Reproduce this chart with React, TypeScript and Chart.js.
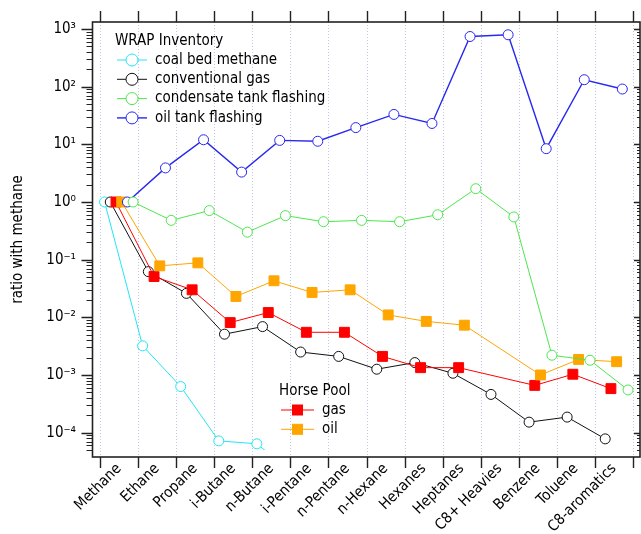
import React, { useEffect, useRef } from 'react';
import { Chart, registerables } from 'chart.js';

Chart.register(...registerables);

// ---------------- data ----------------
const categories = [
  'Methane', 'Ethane', 'Propane', 'i-Butane', 'n-Butane', 'i-Pentane', 'n-Pentane',
  'n-Hexane', 'Hexanes', 'Heptanes', 'C8+ Heavies', 'Benzene', 'Toluene', 'C8-aromatics',
];

const coalBedMethane = [1, 0.0032, 0.00063, 0.000072, 0.000064, 0.000019, null, null, null, null, null, null, null, null];
const conventionalGas = [1, 0.062, 0.026, 0.0051, 0.0069, 0.0025, 0.0021, 0.00126, 0.00164, 0.00107, 0.00046, 0.000152, 0.000186, 0.000078];
const horsePoolGas = [1, 0.051, 0.030, 0.0081, 0.0121, 0.0055, 0.0055, 0.0021, 0.00134, 0.00134, null, 0.00066, 0.00103, 0.00058];
const horsePoolOil = [1, 0.078, 0.088, 0.023, 0.043, 0.027, 0.030, 0.011, 0.0085, 0.0073, null, 0.0010, 0.00186, 0.0017];
const oilTankFlashing = [1, 3.9, 12, 3.3, 11.7, 11.3, 19.5, 33, 23, 741, 794, 8.4, 132, 91];
const condensateTankFlashing = [1, 0.48, 0.71, 0.30, 0.58, 0.455, 0.48, 0.455, 0.60, 1.70, 0.55, 0.0022, 0.0018, 0.00055];

const yTickExponents = [-4, -3, -2, -1, 0, 1, 2, 3];
const Y_MIN = 5e-5;
const Y_MAX = 1000;

// ---------------- styles ----------------
const FONT_FAMILY = '"DejaVu Sans Condensed", "Liberation Sans", sans-serif';
const FONT_SIZE = 15;
const SLOT_OFFSETS = [0.12, 0.27, 0.42, 0.57, 0.72, 0.87];

type Series = {
  label: string;
  values: (number | null)[];
  color: string;
  marker: 'circle' | 'rect';
  slot: number;
  order: number;
  width: number;
};

const wrapSeries: Series[] = [
  { label: 'coal bed methane', values: coalBedMethane, color: '#22e5f5', marker: 'circle', slot: 0, order: 5, width: 1 },
  { label: 'conventional gas', values: conventionalGas, color: '#111111', marker: 'circle', slot: 1, order: 4, width: 1 },
  { label: 'condensate tank flashing', values: condensateTankFlashing, color: '#4de64d', marker: 'circle', slot: 5, order: 0, width: 1 },
  { label: 'oil tank flashing', values: oilTankFlashing, color: '#2828f0', marker: 'circle', slot: 4, order: 1, width: 1.4 },
];
const horseSeries: Series[] = [
  { label: 'gas', values: horsePoolGas, color: '#ff0000', marker: 'rect', slot: 2, order: 3, width: 1 },
  { label: 'oil', values: horsePoolOil, color: '#ffa500', marker: 'rect', slot: 3, order: 2, width: 1 },
];

function sup(n: number): string {
  const map: Record<string, string> = {
    '-': '\u207B', '0': '\u2070', '1': '\u00B9', '2': '\u00B2', '3': '\u00B3',
    '4': '\u2074', '5': '\u2075', '6': '\u2076', '7': '\u2077', '8': '\u2078', '9': '\u2079',
  };
  return '10' + String(n).split('').map((c) => map[c]).join('');
}

function makeDataset(s: Series) {
  const isCircle = s.marker === 'circle';
  return {
    label: s.label,
    data: s.values.map((v, i) => ({ x: i + SLOT_OFFSETS[s.slot], y: v })),
    borderColor: s.color,
    backgroundColor: isCircle ? '#ffffff' : s.color,
    pointBackgroundColor: isCircle ? '#ffffff' : s.color,
    pointBorderColor: s.color,
    pointStyle: s.marker,
    pointRadius: isCircle ? 5 : 7,
    pointBorderWidth: 1,
    borderWidth: s.width,
    spanGaps: true,
    order: s.order,
    clip: { left: 12, right: 12, top: 12, bottom: 0 },
  };
}

function drawMarker(ctx: CanvasRenderingContext2D, s: Series, x: number, y: number) {
  ctx.save();
  ctx.setLineDash([]);
  ctx.strokeStyle = s.color;
  ctx.lineWidth = 1;
  if (s.marker === 'circle') {
    ctx.fillStyle = '#ffffff';
    ctx.beginPath();
    ctx.arc(x, y, 6, 0, Math.PI * 2);
    ctx.fill();
    ctx.stroke();
  } else {
    const h = 5;
    ctx.fillStyle = s.color;
    ctx.fillRect(x - h, y - h, 2 * h, 2 * h);
    ctx.strokeRect(x - h, y - h, 2 * h, 2 * h);
  }
  ctx.restore();
}

function drawLegendGroup(ctx: CanvasRenderingContext2D, title: string, items: Series[], x: number, y: number, lineLen: number) {
  ctx.save();
  ctx.font = `${FONT_SIZE}px ${FONT_FAMILY}`;
  ctx.fillStyle = '#000';
  ctx.textBaseline = 'middle';
  ctx.textAlign = 'left';
  ctx.fillText(title, x, y);
  items.forEach((s, j) => {
    const yy = y + 19.3 * (j + 1);
    const x0 = x + 2;
    ctx.strokeStyle = s.color;
    ctx.lineWidth = s.width;
    ctx.beginPath();
    ctx.moveTo(x0, yy);
    ctx.lineTo(x0 + lineLen, yy);
    ctx.stroke();
    drawMarker(ctx, s, x0 + lineLen / 2, yy);
    ctx.fillStyle = '#000';
    ctx.fillText(s.label, x0 + lineLen + 8, yy);
  });
  ctx.restore();
}

const framePlugin = {
  id: 'igorFrame',
  beforeDatasetsDraw(chart: any) {
    const { ctx, chartArea: a, scales } = chart;
    const xs = scales.x;
    const T = a.top - 7;
    const B = a.bottom + 7;
    ctx.save();
    ctx.strokeStyle = '#c4c4e4';
    ctx.lineWidth = 1;
    ctx.setLineDash([1, 2]);
    for (let i = 0; i <= categories.length; i++) {
      const px = Math.round(xs.getPixelForValue(i)) + 0.5;
      ctx.beginPath();
      ctx.moveTo(px, T);
      ctx.lineTo(px, B);
      ctx.stroke();
    }
    ctx.restore();
  },
  afterDraw(chart: any) {
    const { ctx, chartArea: a, scales } = chart;
    const xs = scales.x;
    const ys = scales.y;
    const L = a.left - 7.5;
    const R = a.right + 7;
    const T = a.top - 7;
    const B = a.bottom + 7;
    ctx.save();
    ctx.setLineDash([]);
    ctx.strokeStyle = '#222';
    ctx.lineWidth = 1.6;
    ctx.strokeRect(L, T, R - L, B - T);
    ctx.lineWidth = 1.4;
    // x ticks (top and bottom, outside)
    for (let i = 0; i <= categories.length; i++) {
      const px = Math.round(xs.getPixelForValue(i)) + 0.5;
      ctx.beginPath();
      ctx.moveTo(px, T - 11);
      ctx.lineTo(px, T);
      ctx.moveTo(px, B);
      ctx.lineTo(px, B + 11);
      ctx.stroke();
    }
    // y ticks (left outside, right inside)
    for (let e = yTickExponents[0] - 1; e <= yTickExponents[yTickExponents.length - 1]; e++) {
      for (let m = 1; m <= 9; m++) {
        const v = m * Math.pow(10, e);
        if (v < Y_MIN * 0.999 || v > Y_MAX * 1.001) continue;
        const py = Math.round(ys.getPixelForValue(v)) + 0.5;
        const major = m === 1;
        ctx.lineWidth = major ? 1.4 : 1.1;
        ctx.beginPath();
        ctx.moveTo(L - (major ? 11 : 6), py);
        ctx.lineTo(L, py);
        ctx.moveTo(R, py);
        ctx.lineTo(R - (major ? 6 : 3), py);
        ctx.stroke();
      }
    }
    ctx.restore();

    drawLegendGroup(ctx, 'WRAP Inventory', wrapSeries, 115, 40.7, 30);
    drawLegendGroup(ctx, 'Horse Pool', horseSeries, 279, 390.7, 33);
  },
};

export default function App() {
  const canvasRef = useRef<HTMLCanvasElement | null>(null);

  useEffect(() => {
    if (!canvasRef.current) return;
    Chart.defaults.font.family = FONT_FAMILY;
    Chart.defaults.font.size = FONT_SIZE;
    Chart.defaults.color = '#000';

    const datasets = [...wrapSeries, ...horseSeries].map(makeDataset);

    const chart = new Chart(canvasRef.current, {
      type: 'line',
      data: { datasets: datasets as any },
      options: {
        responsive: false,
        animation: false,
        devicePixelRatio: 1,
        layout: { padding: { left: 0, right: 8, top: 29, bottom: 0 } },
        plugins: {
          legend: { display: false },
          tooltip: { enabled: false },
        },
        scales: {
          x: {
            type: 'linear',
            min: 0,
            max: categories.length,
            afterBuildTicks: (s: any) => {
              s.ticks = categories.map((_, i) => ({ value: i + 0.5 }));
            },
            afterFit: (s: any) => {
              s.height = 84;
              s.paddingLeft = 0;
              s.paddingRight = 0;
            },
            grid: { display: false, drawTicks: false },
            border: { display: false },
            ticks: {
              autoSkip: false,
              minRotation: 45,
              maxRotation: 45,
              padding: 10,
              color: '#000',
              font: { size: FONT_SIZE, family: FONT_FAMILY },
              callback: (_v: any, i: number) => categories[i],
            },
          },
          y: {
            type: 'logarithmic',
            min: Y_MIN,
            max: Y_MAX,
            afterBuildTicks: (s: any) => {
              s.ticks = yTickExponents.map((e) => ({ value: Math.pow(10, e) }));
            },
            afterFit: (s: any) => {
              s.width = 100;
              s.paddingTop = 0;
              s.paddingBottom = 0;
            },
            grid: { display: false, drawTicks: false },
            border: { display: false },
            ticks: {
              autoSkip: false,
              padding: 24,
              color: '#000',
              font: { size: FONT_SIZE, family: FONT_FAMILY },
              callback: (v: any) => sup(Math.round(Math.log10(Number(v)))),
            },
            title: {
              display: true,
              text: 'ratio with methane',
              color: '#000',
              font: { size: FONT_SIZE, family: FONT_FAMILY },
              padding: { top: 9, bottom: 0 },
            },
          },
        },
      },
      plugins: [framePlugin],
    });

    return () => chart.destroy();
  }, []);

  return (
    <div style={{ position: 'fixed', left: 0, top: 0, width: 641, height: 534, background: '#fff' }}>
      <canvas ref={canvasRef} width={641} height={534} style={{ display: 'block' }} />
    </div>
  );
}
